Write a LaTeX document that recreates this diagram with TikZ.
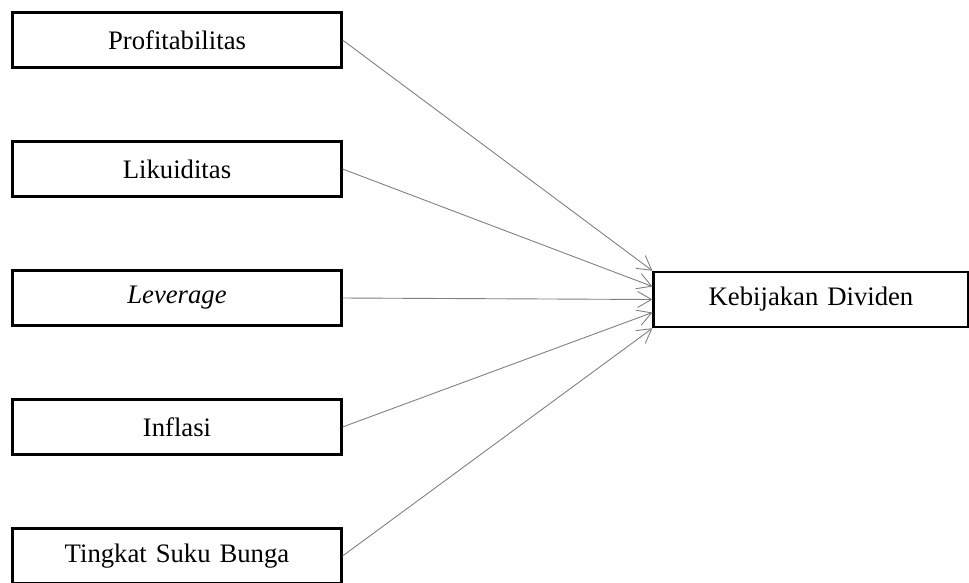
\documentclass[tikz,border=0pt]{standalone}
\usepackage{fontspec}
\setmainfont{Liberation Serif}
\usetikzlibrary{arrows.meta}

\begin{document}
\begin{tikzpicture}[x=1pt,y=1pt,
    varbox/.style={draw,line width=2.4pt,text width=322pt,align=center,minimum height=55pt,font=\fontsize{26.7}{32}\selectfont},
    link/.style={-{Straight Barb[length=14pt,width=16pt]},draw=gray,line width=0.9pt},
    node distance=129pt]
    \useasboundingbox (0,0) rectangle (969,-582);
    \node[varbox] (profit) at (177,-40) {Profitabilitas};
    \node[varbox] (likuid) [below of=profit] {Likuiditas};
    \node[varbox] (lever) [below of=likuid] {\textit{Leverage}};
    \node[varbox] (inflasi) [below of=lever] {Inflasi};
    \node[varbox] (bunga) [below of=inflasi] {Tingkat Suku Bunga};
    \node[varbox,text width=308pt] (dividen) at (811,-299.5) {Kebijakan Dividen};
    \draw[link] (profit.east) -- (dividen.north west);
    \draw[link] (likuid.east) -- ([yshift=13pt]dividen.west);
    \draw[link] (lever.east) -- (dividen.west);
    \draw[link] (inflasi.east) -- ([yshift=-13pt]dividen.west);
    \draw[link] (bunga.east) -- (dividen.south west);
\end{tikzpicture}
\end{document}
